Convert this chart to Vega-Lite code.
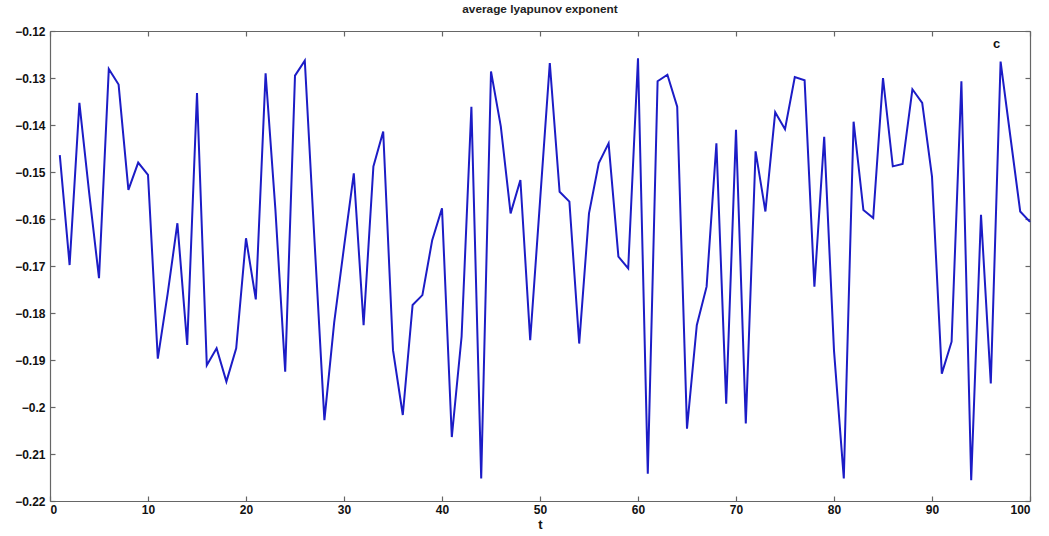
{
  "$schema": "https://vega.github.io/schema/vega-lite/v6.json",
  "width": 980,
  "height": 470,
  "autosize": {"type": "none"},
  "padding": {"left": 50, "top": 31, "right": 19, "bottom": 35},
  "background": "white",
  "title": {"text": "average lyapunov exponent", "fontSize": 11.8, "font": "Liberation Sans", "fontWeight": "bold", "color": "#222222", "offset": 9},
  "config": {
    "view": {"stroke": null},
    "axis": {"grid": false, "domainColor": "#666666", "tickColor": "#666666", "labelFont": "Liberation Sans", "labelFontWeight": "bold", "labelFontSize": 12, "labelColor": "#111111", "titleFont": "Liberation Sans", "titleFontWeight": "bold", "titleFontSize": 13, "titleColor": "#111111", "domainWidth": 1.2, "tickWidth": 1.2}
  },
  "data": {"values": [
    {"t":1,"v":-0.1464},{"t":2,"v":-0.1698},{"t":3,"v":-0.1353},{"t":4,"v":-0.1545},{"t":5,"v":-0.1726},
    {"t":6,"v":-0.1281},{"t":7,"v":-0.1314},{"t":8,"v":-0.1538},{"t":9,"v":-0.148},{"t":10,"v":-0.1506},
    {"t":11,"v":-0.1897},{"t":12,"v":-0.176},{"t":13,"v":-0.1609},{"t":14,"v":-0.1868},{"t":15,"v":-0.1332},
    {"t":16,"v":-0.1911},{"t":17,"v":-0.1875},{"t":18,"v":-0.1946},{"t":19,"v":-0.1875},{"t":20,"v":-0.1641},
    {"t":21,"v":-0.1771},{"t":22,"v":-0.129},{"t":23,"v":-0.158},{"t":24,"v":-0.1925},{"t":25,"v":-0.1295},
    {"t":26,"v":-0.1263},{"t":27,"v":-0.165},{"t":28,"v":-0.2028},{"t":29,"v":-0.182},{"t":30,"v":-0.166},
    {"t":31,"v":-0.1503},{"t":32,"v":-0.1826},{"t":33,"v":-0.1488},{"t":34,"v":-0.1414},{"t":35,"v":-0.1879},
    {"t":36,"v":-0.2017},{"t":37,"v":-0.1783},{"t":38,"v":-0.1762},{"t":39,"v":-0.1645},{"t":40,"v":-0.1577},
    {"t":41,"v":-0.2064},{"t":42,"v":-0.185},{"t":43,"v":-0.1361},{"t":44,"v":-0.2152},{"t":45,"v":-0.1286},
    {"t":46,"v":-0.1403},{"t":47,"v":-0.1588},{"t":48,"v":-0.1517},{"t":49,"v":-0.1858},{"t":50,"v":-0.1563},
    {"t":51,"v":-0.1268},{"t":52,"v":-0.1542},{"t":53,"v":-0.1563},{"t":54,"v":-0.1865},{"t":55,"v":-0.1588},
    {"t":56,"v":-0.1481},{"t":57,"v":-0.1439},{"t":58,"v":-0.168},{"t":59,"v":-0.1705},{"t":60,"v":-0.1258},
    {"t":61,"v":-0.2142},{"t":62,"v":-0.1307},{"t":63,"v":-0.1293},{"t":64,"v":-0.1361},{"t":65,"v":-0.2046},
    {"t":66,"v":-0.1826},{"t":67,"v":-0.1744},{"t":68,"v":-0.1439},{"t":69,"v":-0.1993},{"t":70,"v":-0.141},
    {"t":71,"v":-0.2035},{"t":72,"v":-0.1456},{"t":73,"v":-0.1584},{"t":74,"v":-0.1373},{"t":75,"v":-0.1409},
    {"t":76,"v":-0.1298},{"t":77,"v":-0.1305},{"t":78,"v":-0.1744},{"t":79,"v":-0.1425},{"t":80,"v":-0.188},
    {"t":81,"v":-0.2152},{"t":82,"v":-0.1393},{"t":83,"v":-0.1581},{"t":84,"v":-0.1598},{"t":85,"v":-0.13},
    {"t":86,"v":-0.1488},{"t":87,"v":-0.1483},{"t":88,"v":-0.1324},{"t":89,"v":-0.1353},{"t":90,"v":-0.151},
    {"t":91,"v":-0.1929},{"t":92,"v":-0.1861},{"t":93,"v":-0.1307},{"t":94,"v":-0.2156},{"t":95,"v":-0.1591},
    {"t":96,"v":-0.195},{"t":97,"v":-0.1265},{"t":98,"v":-0.1425},{"t":99,"v":-0.1584},{"t":100,"v":-0.1606}
  ]},
  "layer": [
    {
      "mark": {"type": "line", "color": "#1c1cc6", "strokeWidth": 2},
      "encoding": {
        "x": {"field": "t", "type": "quantitative", "scale": {"domain": [0, 100], "nice": false, "zero": false},
              "axis": {"orient": "bottom", "values": [0,10,20,30,40,50,60,70,80,90,100], "format": "d", "tickSize": -5, "labelPadding": 8, "title": "t", "titlePadding": 3}},
        "y": {"field": "v", "type": "quantitative", "scale": {"domain": [-0.22, -0.12], "nice": false, "zero": false},
              "axis": {"orient": "left", "values": [-0.22,-0.21,-0.2,-0.19,-0.18,-0.17,-0.16,-0.15,-0.14,-0.13,-0.12], "format": ".2~f", "tickSize": -5, "labelPadding": 10, "title": null}}
      }
    },
    {
      "mark": {"type": "line", "strokeOpacity": 0},
      "encoding": {
        "x": {"field": "t", "type": "quantitative", "scale": {"domain": [0, 100], "nice": false, "zero": false},
              "axis": {"orient": "top", "values": [0,10,20,30,40,50,60,70,80,90,100], "labels": false, "tickSize": -5, "title": null}},
        "y": {"field": "v", "type": "quantitative", "scale": {"domain": [-0.22, -0.12], "nice": false, "zero": false},
              "axis": {"orient": "right", "values": [-0.22,-0.21,-0.2,-0.19,-0.18,-0.17,-0.16,-0.15,-0.14,-0.13,-0.12], "labels": false, "tickSize": -5, "title": null}}
      }
    },
    {
      "data": {"values": [{"t": 96.6, "v": -0.1228, "label": "c"}]},
      "mark": {"type": "text", "font": "Liberation Sans", "fontWeight": "bold", "fontSize": 13, "color": "#111111"},
      "encoding": {
        "x": {"field": "t", "type": "quantitative", "axis": null},
        "y": {"field": "v", "type": "quantitative", "axis": null},
        "text": {"field": "label"}
      }
    }
  ],
  "resolve": {"axis": {"x": "independent", "y": "independent"}}
}
